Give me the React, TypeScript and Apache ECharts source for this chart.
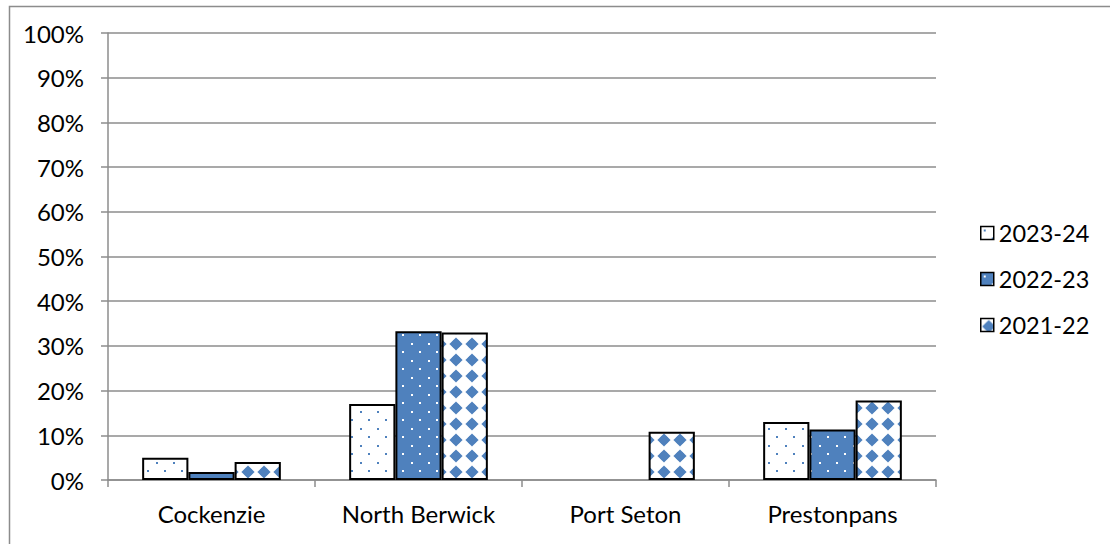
import React, { useEffect, useRef } from 'react';
import * as echarts from 'echarts';

const categories = ['Cockenzie', 'North Berwick', 'Port Seton', 'Prestonpans'];
const seriesNames = ['2023-24', '2022-23', '2021-22'];
const values2324: (number | null)[] = [5, 17, null, 13];
const values2223: (number | null)[] = [1.8, 33.3, null, 11.3];
const values2122: (number | null)[] = [4, 33, 10.8, 17.8];
const yMin = 0;
const yMax = 100;
const yInterval = 10;

const BLUE = '#4F81BD';
const GRAY = '#8C8C8C';
const FONT = 'Lato, "Liberation Sans", sans-serif';

function makeTile(kind: 'lightDots' | 'darkDots' | 'diamonds') {
  const s = kind === 'diamonds' ? 16 : 17;
  const c = document.createElement('canvas');
  c.width = s;
  c.height = s;
  const ctx = c.getContext('2d')!;
  if (kind === 'lightDots') {
    ctx.fillStyle = '#ffffff';
    ctx.fillRect(0, 0, s, s);
    ctx.fillStyle = BLUE;
    ctx.fillRect(3, 3, 2, 2);
    ctx.fillRect(11, 11, 2, 2);
  } else if (kind === 'darkDots') {
    ctx.fillStyle = BLUE;
    ctx.fillRect(0, 0, s, s);
    ctx.fillStyle = '#ffffff';
    ctx.fillRect(3, 3, 2, 2);
    ctx.fillRect(11, 11, 2, 2);
  } else {
    ctx.fillStyle = '#ffffff';
    ctx.fillRect(0, 0, s, s);
    ctx.fillStyle = BLUE;
    const m = s / 2;
    ctx.beginPath();
    ctx.moveTo(m, m - 6.6);
    ctx.lineTo(m + 6.6, m);
    ctx.lineTo(m, m + 6.6);
    ctx.lineTo(m - 6.6, m);
    ctx.closePath();
    ctx.fill();
    ctx.beginPath();
    ctx.arc(m, m, 4.4, 0, Math.PI * 2);
    ctx.fill();
  }
  return { image: c, repeat: 'repeat', imageWidth: s, imageHeight: s } as any;
}

export default function App() {
  const ref = useRef<HTMLDivElement>(null);
  useEffect(() => {
    if (!ref.current) return;
    const chart = echarts.init(ref.current, undefined, { renderer: 'svg' });
    const fills = [makeTile('lightDots'), makeTile('darkDots'), makeTile('diamonds')];
    const dataSets = [values2324, values2223, values2122];
    const option: any = {
      animation: false,
      backgroundColor: '#ffffff',
      textStyle: { fontFamily: FONT },
      graphic: [
        {
          type: 'rect',
          left: 7,
          top: 4,
          shape: { x: 0, y: 0, width: 1200, height: 700 },
          style: { fill: 'none', stroke: GRAY, lineWidth: 1.5 },
          silent: true,
        },
      ],
      grid: { left: 108, top: 33, right: 174, bottom: 64, containLabel: false },
      legend: {
        orient: 'vertical',
        left: 980,
        top: 221,
        padding: 0,
        icon: 'rect',
        itemWidth: 13,
        itemHeight: 13,
        itemGap: 22,
        data: seriesNames,
        textStyle: { fontFamily: FONT, fontSize: 23.5, color: '#000', lineHeight: 24 },
        itemStyle: { borderColor: '#000', borderWidth: 1.5 },
      },
      xAxis: {
        type: 'category',
        data: categories,
        axisLine: { show: true, lineStyle: { color: GRAY, width: 1.5 } },
        axisTick: { show: true, length: 7, lineStyle: { color: GRAY, width: 1.5 } },
        axisLabel: { fontFamily: FONT, fontSize: 24, color: '#000', margin: 21 },
      },
      yAxis: {
        type: 'value',
        min: yMin,
        max: yMax,
        interval: yInterval,
        axisLine: { show: true, lineStyle: { color: GRAY, width: 1.5 } },
        axisTick: { show: true, length: 7, lineStyle: { color: GRAY, width: 1.5 } },
        splitLine: { show: true, lineStyle: { color: GRAY, width: 1.5 } },
        axisLabel: {
          fontFamily: FONT,
          fontSize: 24,
          color: '#000',
          margin: 24,
          formatter: (v: number) => `${Math.round(v)}%`,
        },
      },
      series: seriesNames.map((name, i) => ({
        name,
        type: 'bar',
        data: dataSets[i],
        barGap: '0%',
        barCategoryGap: '33%',
        itemStyle: { color: fills[i], borderColor: '#000', borderWidth: 2 },
      })),
    };
    chart.setOption(option);
    return () => chart.dispose();
  }, []);
  return (
    <div
      ref={ref}
      style={{ position: 'fixed', left: 0, top: 0, width: 1110, height: 544 }}
    />
  );
}
